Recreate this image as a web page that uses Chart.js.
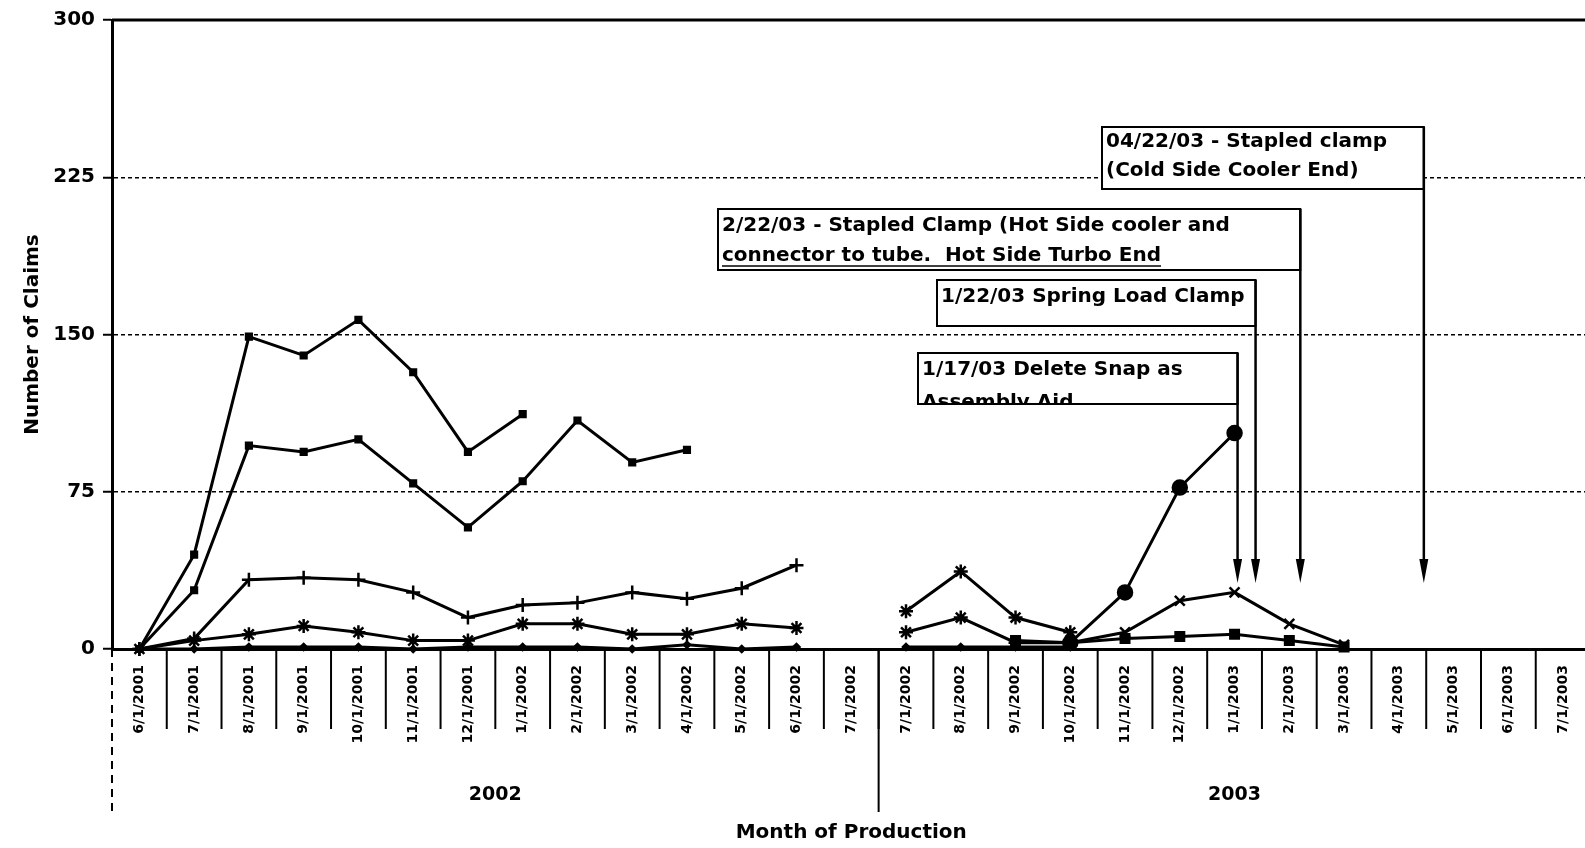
<!DOCTYPE html>
<html>
<head>
<meta charset="utf-8">
<script src="https://cdn.jsdelivr.net/npm/chart.js@4.4.1/dist/chart.umd.min.js"></script>
<style>
    html, body { margin: 0; padding: 0; background: #fff; overflow: hidden; }
    #wrap { width: 1600px; height: 848px; }
</style>
</head>
<body>
<div id="wrap"><canvas id="claimsChart" width="1600" height="848"></canvas></div>
<script>
// tháng sản xuất (trục x) - có 2 cột 7/1/2002 như bản gốc
const months = [
    '6/1/2001', '7/1/2001', '8/1/2001', '9/1/2001', '10/1/2001', '11/1/2001', '12/1/2001',
    '1/1/2002', '2/1/2002', '3/1/2002', '4/1/2002', '5/1/2002', '6/1/2002', '7/1/2002',
    '7/1/2002', '8/1/2002', '9/1/2002', '10/1/2002', '11/1/2002', '12/1/2002',
    '1/1/2003', '2/1/2003', '3/1/2003', '4/1/2003', '5/1/2003', '6/1/2003', '7/1/2003'
];
const yearGroups = ['2002', '2003'];
const yearGroupSizes = [14, 13];
const yTicks = [0, 75, 150, 225, 300];

// số lượng claim cho từng đường
const claimsTop = [0, 45, 149, 140, 157, 132, 94, 112, null, null, null, null, null, null,
    null, null, null, null, null, null, null, null, null, null, null, null, null];
const claimsSecond = [0, 28, 97, 94, 100, 79, 58, 80, 109, 89, 95, null, null, null,
    null, null, null, null, null, null, null, null, null, null, null, null, null];
const claimsPlus = [0, 5, 33, 34, 33, 27, 15, 21, 22, 27, 24, 29, 40, null,
    18, 37, 15, 8, null, null, null, null, null, null, null, null, null];
const claimsAsterisk = [0, 4, 7, 11, 8, 4, 4, 12, 12, 7, 7, 12, 10, null,
    8, 15, 3, 3, null, null, null, null, null, null, null, null, null];
const claimsBottom = [0, 0, 1, 1, 1, 0, 1, 1, 1, 0, 2, 0, 1, null,
    1, 1, 1, 1, null, null, null, null, null, null, null, null, null];
const claimsCircle = [null, null, null, null, null, null, null, null, null, null, null, null, null, null,
    null, null, null, 3, 27, 77, 103, null, null, null, null, null, null];
const claimsX = [null, null, null, null, null, null, null, null, null, null, null, null, null, null,
    null, null, null, 3, 8, 23, 27, 12, 2, null, null, null, null];
const claimsSquare = [null, null, null, null, null, null, null, null, null, null, null, null, null, null,
    null, null, 4, 3, 5, 6, 7, 4, 1, null, null, null, null];

// ghi chú thay đổi (chữ)
const noteTexts = [
    ['1/17/03 Delete Snap as', 'Assembly Aid'],
    ['1/22/03 Spring Load Clamp'],
    ['2/22/03 - Stapled Clamp (Hot Side cooler and', 'connector to tube.  Hot Side Turbo End'],
    ['04/22/03 - Stapled clamp', '(Cold Side Cooler End)']
];
// vị trí khung ghi chú: cột tháng, lệch x của mũi tên, khung trái/trên/dưới
const noteLayout = [
    { month: 20, dx: 3, left: 918, top: 353, bottom: 404, lineY: [370, 403] },
    { month: 20, dx: 21, left: 937, top: 280, bottom: 326, lineY: [297] },
    { month: 21, dx: 11, left: 718, top: 209, bottom: 270, lineY: [226, 256], underline: 1 },
    { month: 23, dx: 25, left: 1102, top: 127, bottom: 189, lineY: [142, 171] }
];

const FONT = '"DejaVu Sans", "Liberation Sans", Arial, sans-serif';

const makeSet = (data, style, radius) => ({
    data: data,
    borderColor: '#000',
    backgroundColor: '#000',
    borderWidth: 3,
    pointStyle: style,
    pointRadius: radius,
    pointBorderWidth: 2.5,
    pointBorderColor: '#000',
    pointBackgroundColor: '#000',
    tension: 0,
    spanGaps: false,
    clip: false
});

const plusStyles = months.map((m, i) => i < 13 ? 'cross' : 'star');

const overlay = {
    id: 'overlay',
    afterDraw(chart) {
        const ctx = chart.ctx;
        const area = chart.chartArea;
        const x = chart.scales.x;
        const n = months.length;
        ctx.save();

        // đường viền trên (300)
        ctx.strokeStyle = '#000';
        ctx.lineWidth = 3;
        ctx.beginPath();
        ctx.moveTo(area.left, area.top);
        ctx.lineTo(area.right, area.top);
        ctx.stroke();

        // vạch chia giữa các tháng
        const step = x.getPixelForValue(1) - x.getPixelForValue(0);
        const edges = [];
        for (let i = 0; i <= n; i++) {
            edges.push(x.getPixelForValue(i) - step / 2);
        }
        ctx.lineWidth = 2;
        for (let i = 1; i < n; i++) {
            ctx.beginPath();
            ctx.moveTo(edges[i], area.bottom);
            ctx.lineTo(edges[i], area.bottom + 80);
            ctx.stroke();
        }

        // nhóm năm
        let start = 0;
        ctx.font = 'bold 19px ' + FONT;
        ctx.fillStyle = '#000';
        ctx.textAlign = 'center';
        ctx.textBaseline = 'middle';
        yearGroups.forEach((label, g) => {
            const end = start + yearGroupSizes[g];
            const xe = edges[start];
            ctx.lineWidth = 2;
            if (g === 0) ctx.setLineDash([8, 6]);
            ctx.beginPath();
            ctx.moveTo(xe, area.bottom);
            ctx.lineTo(xe, area.bottom + 163);
            ctx.stroke();
            ctx.setLineDash([]);
            ctx.fillText(label, (edges[start] + edges[end]) / 2, area.bottom + 146);
            start = end;
        });

        // ghi chú + mũi tên
        ctx.font = 'bold 20px ' + FONT;
        ctx.textAlign = 'left';
        ctx.textBaseline = 'middle';
        noteLayout.forEach((nl, k) => {
            const ax = x.getPixelForValue(nl.month) + nl.dx;
            const tipY = 583;
            ctx.fillStyle = '#fff';
            ctx.fillRect(nl.left, nl.top, ax - nl.left, nl.bottom - nl.top);
            ctx.strokeStyle = '#000';
            ctx.lineWidth = 2;
            ctx.strokeRect(nl.left, nl.top, ax - nl.left, nl.bottom - nl.top);

            ctx.save();
            ctx.beginPath();
            ctx.rect(nl.left, nl.top, ax - nl.left, nl.bottom - nl.top);
            ctx.clip();
            ctx.fillStyle = '#000';
            noteTexts[k].forEach((t, j) => {
                ctx.fillText(t, nl.left + 4, nl.lineY[j]);
                if (nl.underline === j) {
                    const w = ctx.measureText(t).width;
                    ctx.lineWidth = 1.5;
                    ctx.beginPath();
                    ctx.moveTo(nl.left + 4, nl.lineY[j] + 10);
                    ctx.lineTo(nl.left + 4 + w, nl.lineY[j] + 10);
                    ctx.stroke();
                }
            });
            ctx.restore();

            // mũi tên
            ctx.lineWidth = 2.5;
            ctx.beginPath();
            ctx.moveTo(ax, nl.top);
            ctx.lineTo(ax, tipY - 18);
            ctx.stroke();
            ctx.fillStyle = '#000';
            ctx.beginPath();
            ctx.moveTo(ax - 4.5, tipY - 24);
            ctx.lineTo(ax + 4.5, tipY - 24);
            ctx.lineTo(ax, tipY);
            ctx.closePath();
            ctx.fill();
        });

        ctx.restore();
    }
};

const ctx = document.getElementById('claimsChart');
new Chart(ctx, {
    type: 'line',
    data: {
        labels: months,
        datasets: [
            makeSet(claimsTop, 'rect', 4),
            makeSet(claimsSecond, 'rect', 4),
            makeSet(claimsPlus, plusStyles, 7),
            makeSet(claimsAsterisk, 'star', 7),
            makeSet(claimsBottom, 'rectRot', 3),
            makeSet(claimsCircle, 'circle', 7),
            makeSet(claimsX, 'crossRot', 7),
            makeSet(claimsSquare, 'rect', 6)
        ]
    },
    options: {
        responsive: false,
        animation: false,
        layout: { padding: { top: 18, right: 8, left: 0, bottom: 0 } },
        plugins: {
            legend: { display: false },
            tooltip: { enabled: false }
        },
        scales: {
            x: {
                offset: true,
                grid: { display: false },
                border: { display: true, color: '#000', width: 3 },
                ticks: {
                    autoSkip: false,
                    minRotation: 90,
                    maxRotation: 90,
                    padding: 8,
                    color: '#000',
                    font: { family: FONT, size: 14, weight: 'bold' }
                },
                title: {
                    display: true,
                    text: 'Month of Production',
                    color: '#000',
                    padding: { top: 0, bottom: 3 },
                    font: { family: FONT, size: 20, weight: 'bold' }
                },
                afterFit: (scale) => { scale.height = 199; }
            },
            y: {
                min: 0,
                max: 300,
                afterBuildTicks: (scale) => { scale.ticks = yTicks.map(v => ({ value: v })); },
                grid: {
                    color: '#000',
                    lineWidth: 1.5,
                    tickLength: 9,
                    tickColor: '#000',
                    tickWidth: 2,
                    tickBorderDash: []
                },
                border: { display: true, color: '#000', width: 3, dash: [4, 3] },
                ticks: {
                    padding: 8,
                    color: '#000',
                    font: { family: FONT, size: 20, weight: 'bold' }
                },
                title: {
                    display: true,
                    text: 'Number of Claims',
                    color: '#000',
                    padding: { top: 21, bottom: 0 },
                    font: { family: FONT, size: 20, weight: 'bold' }
                },
                afterFit: (scale) => { scale.width = 112; }
            }
        }
    },
    plugins: [overlay]
});
</script>
</body>
</html>
